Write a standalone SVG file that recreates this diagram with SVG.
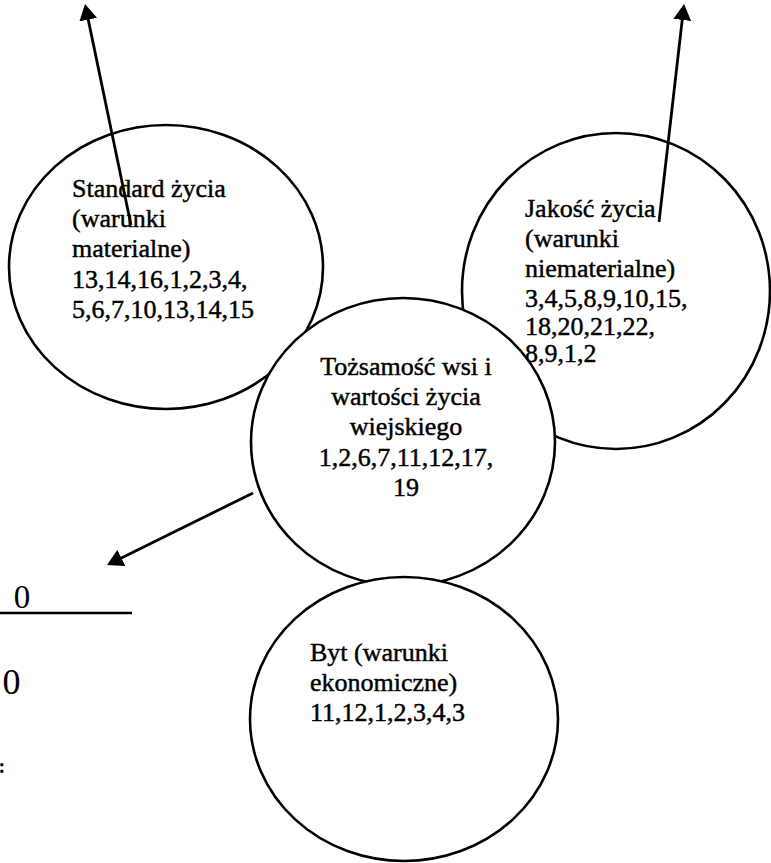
<svg xmlns="http://www.w3.org/2000/svg" width="771" height="863" viewBox="0 0 771 863">
<style>
  .c { fill: #fff; stroke: #000; stroke-width: 2.6; }
  .t { font-family: "Liberation Serif", "Times New Roman", serif; font-size: 26px; fill: #000; stroke: #000; stroke-width: 0.45; }
  .m { text-anchor: middle; }
  .z { font-family: "Liberation Serif", "Times New Roman", serif; fill: #000; }
  .a { fill: none; stroke: #000; stroke-width: 2.8; }
</style>
<defs>
  <marker id="ah" markerUnits="userSpaceOnUse" markerWidth="16" markerHeight="18" viewBox="0 0 16 18" refX="13" refY="9" orient="auto">
    <path d="M0,0 L16,9 L0,18 z" fill="#000"/>
  </marker>
</defs>
<rect width="771" height="863" fill="#fff"/>

<g id="standard">
  <ellipse class="c" cx="166" cy="267" rx="157" ry="142"/>
  <text class="t" x="72" y="197">Standard życia</text>
  <text class="t" x="72" y="227">(warunki</text>
  <text class="t" x="72" y="257">materialne)</text>
  <text class="t" x="72" y="288">13,14,16,1,2,3,4,</text>
  <text class="t" x="72" y="318">5,6,7,10,13,14,15</text>
</g>

<g id="jakosc">
  <ellipse class="c" cx="616" cy="291" rx="154" ry="158"/>
  <text class="t" x="525" y="217">Jakość życia</text>
  <text class="t" x="525" y="247">(warunki</text>
  <text class="t" x="525" y="277">niematerialne)</text>
  <text class="t" x="525" y="307">3,4,5,8,9,10,15,</text>
  <text class="t" x="525" y="335">18,20,21,22,</text>
  <text class="t" x="525" y="362">8,9,1,2</text>
</g>

<g id="tozsamosc">
  <ellipse class="c" cx="403" cy="442" rx="152" ry="144"/>
  <text class="t m" x="406" y="375">Tożsamość wsi i</text>
  <text class="t m" x="406" y="405">wartości życia</text>
  <text class="t m" x="406" y="435">wiejskiego</text>
  <text class="t m" x="406" y="466">1,2,6,7,11,12,17,</text>
  <text class="t m" x="406" y="496">19</text>
</g>

<g id="byt">
  <ellipse class="c" cx="404" cy="719" rx="154" ry="142"/>
  <text class="t" x="310" y="661">Byt (warunki</text>
  <text class="t" x="310" y="691">ekonomiczne)</text>
  <text class="t" x="310" y="721">11,12,1,2,3,4,3</text>
</g>

<g id="fragment">
  <line x1="0" y1="613" x2="132" y2="613" stroke="#000" stroke-width="2.7"/>
  <text class="z" x="22" y="608" font-size="33" text-anchor="middle">0</text>
  <text class="z" x="11.5" y="694" font-size="36" text-anchor="middle">0</text>
  <text class="z" x="-1.5" y="773" font-size="20" font-weight="bold">:</text>
</g>

<g id="connectors">
  <line class="a" x1="131" y1="225" x2="85.6" y2="6.9" marker-end="url(#ah)"/>
  <line class="a" x1="659" y1="222" x2="683.7" y2="7" marker-end="url(#ah)"/>
  <line class="a" x1="253" y1="493" x2="109.7" y2="563.7" marker-end="url(#ah)"/>
</g>
</svg>
